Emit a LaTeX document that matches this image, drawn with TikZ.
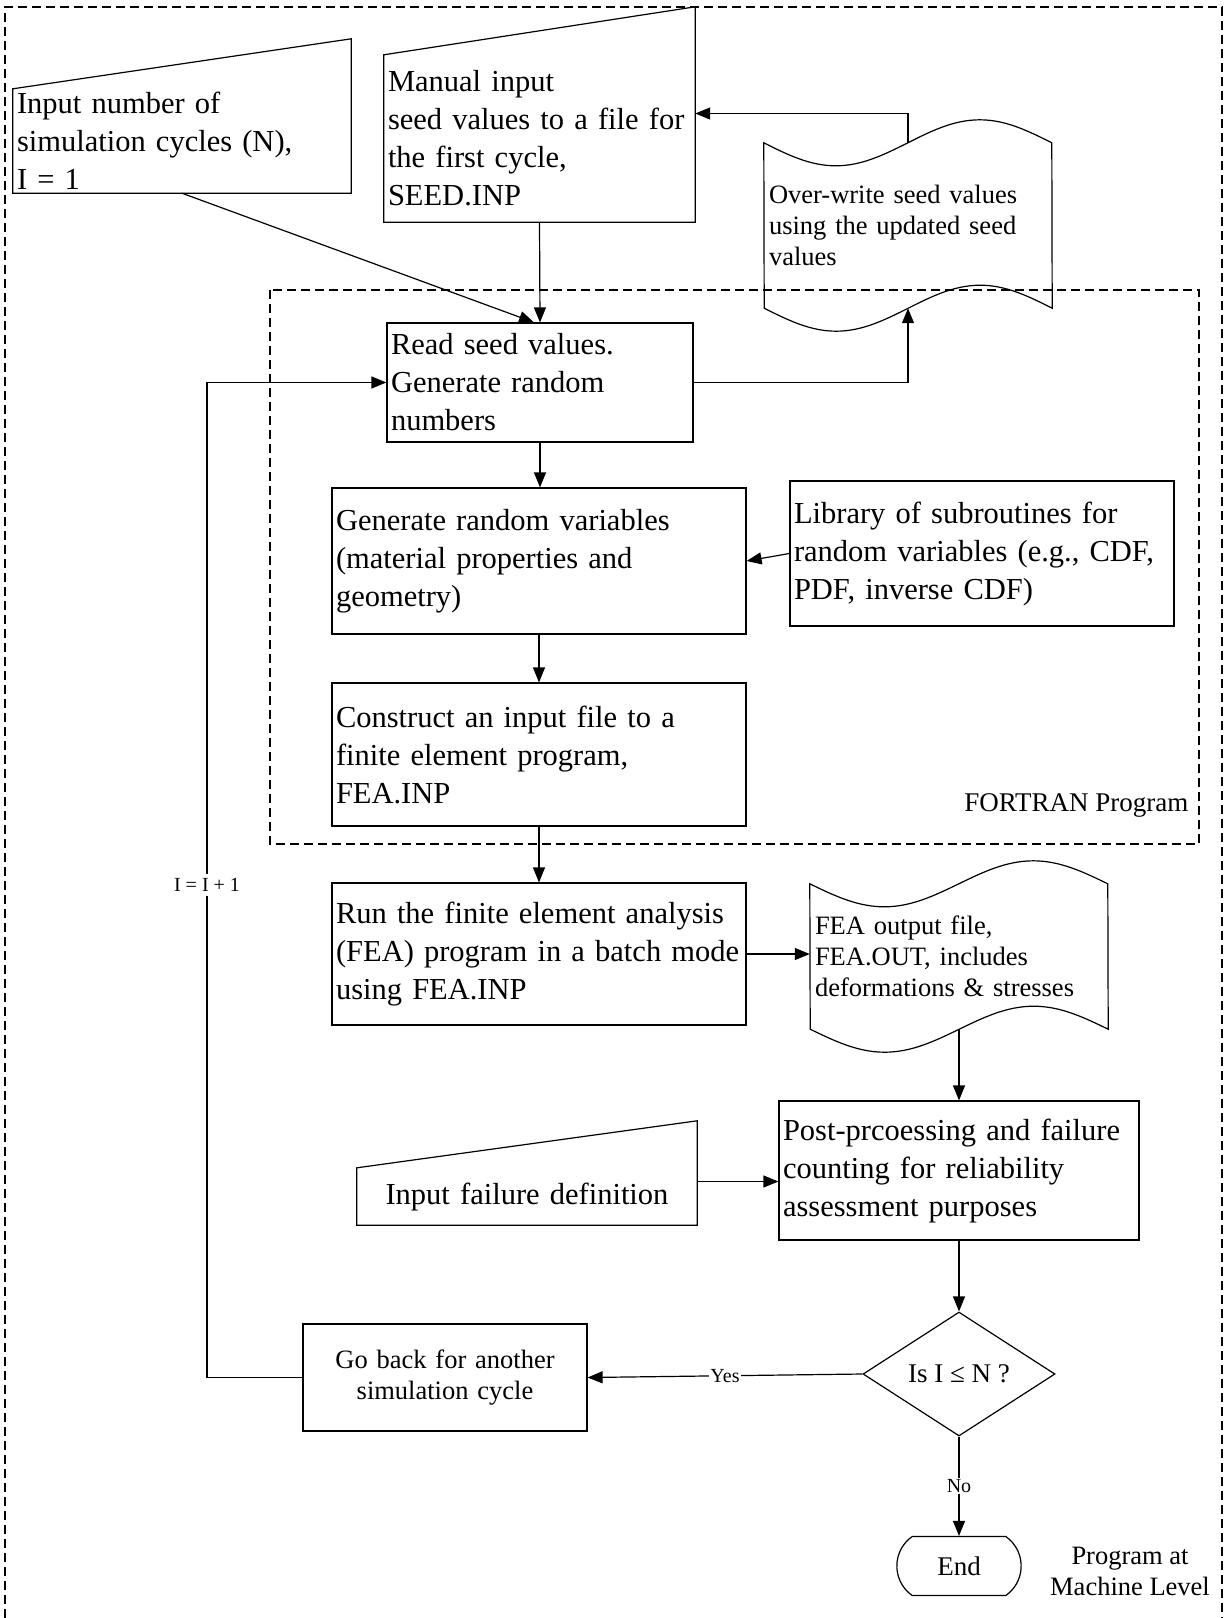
\documentclass[tikz,border=0pt]{standalone}
\usepackage{fontspec}
\setmainfont{Liberation Serif}
\usetikzlibrary{arrows.meta,calc,shapes.geometric,shapes.misc}
\newcommand\fbig{\fontsize{30.5}{38}\selectfont\spaceskip=5.5pt plus 2pt minus 1pt\relax}
\newcommand\fmid{\fontsize{26.5}{31}\selectfont}
\newcommand\fdia{\fontsize{27}{31}\selectfont}
\newcommand\fsml{\fontsize{20}{24}\selectfont}
\begin{document}
\begin{tikzpicture}[x=1pt,y=-1pt,
  lw/.style={line width=1.2pt},
  box/.style={draw, lw, inner xsep=4pt, inner ysep=0pt, align=left, font=\fbig},
  plain/.style={inner xsep=4pt, inner ysep=0pt, align=left},
  arr/.style={lw, -{Triangle[length=15pt,width=12pt]}},
  dsh/.style={lw, dash pattern=on 9pt off 5pt},
  lbl/.style={fill=white, inner sep=1.5pt, font=\fsml}]

\useasboundingbox (0,0) rectangle (1225,1618);

% frames
\draw[dsh] (5,1618) -- (5,7) -- (1222,7) -- (1222,1618);
\draw[dsh] (270,290) rectangle (1199,844);

% manual inputs (trapezoids)
\node[plain, font=\fbig, text width=330pt, minimum height=104pt] (inN) at (182,141)
  {Input number of\\simulation cycles (N),\\I = 1};
\draw[lw] (inN.south west) -- (inN.north west) -- ($(inN.north east)+(0,-50)$) -- (inN.south east) -- cycle;

\node[plain, font=\fbig, text width=303pt, minimum height=167pt] (man) at (539.5,138.5)
  {Manual input\\seed values to a file for\\the first cycle,\\SEED.INP};
\draw[lw] (man.south west) -- (man.north west) -- ($(man.north east)+(0,-48)$) -- (man.south east) -- cycle;

% process boxes
\node[box, text width=298pt, minimum height=119pt] (read) at (540,382.5)
  {Read seed values.\\Generate random\\numbers};
\node[box, text width=406pt, minimum height=146pt] (gen) at (539,561)
  {Generate random variables\\(material properties and\\geometry)};
\node[box, text width=376pt, minimum height=145pt] (lib) at (982,553.5)
  {Library of subroutines for\\random variables (e.g., CDF,\\PDF, inverse CDF)};
\node[box, text width=406pt, minimum height=143pt] (cons) at (539,754.5)
  {Construct an input file to a\\finite element program,\\FEA.INP};
\node[box, text width=406pt, minimum height=142pt] (run) at (539,954)
  {Run the finite element analysis\\(FEA) program in a batch mode\\using FEA.INP};
\node[box, text width=352pt, minimum height=139pt] (post) at (959,1170.5)
  {Post-prcoessing and failure\\counting for reliability\\assessment purposes};

% punched tapes
\node[plain, inner xsep=5pt, font=\fmid, text width=278pt, minimum height=165pt] (ow) at (908,225.5)
  {Over-write seed values\\using the updated seed\\values};
\draw[lw] (ow.north west) sin ++(72,23) cos ++(72,-23) sin ++(72,-23) cos ++(72,23)
  -- (ow.south east) sin ++(-72,-23) cos ++(-72,23) sin ++(-72,23) cos ++(-72,-23) -- cycle;

\node[plain, inner xsep=5pt, font=\fmid, text width=288pt, minimum height=145pt] (fea) at (959,956.5)
  {FEA output file,\\FEA.OUT, includes\\deformations \& stresses};
\draw[lw] (fea.north west) sin ++(74.5,23) cos ++(74.5,-23) sin ++(74.5,-23) cos ++(74.5,23)
  -- (fea.south east) sin ++(-74.5,-23) cos ++(-74.5,23) sin ++(-74.5,23) cos ++(-74.5,-23) -- cycle;

% failure input
\node[plain, align=center, font=\fbig, text width=332pt, minimum height=57pt] (fail) at (527,1196.5)
  {Input failure definition};
\draw[lw] (fail.south west) -- (fail.north west) -- ($(fail.north east)+(0,-47)$) -- (fail.south east) -- cycle;

% decision, loop, end
\node[diamond, draw, lw, aspect=1.55, inner sep=0pt, minimum width=192pt, minimum height=124pt, font=\fdia] (dia) at (959,1374)
  {Is I ≤ N ?};
\node[box, align=center, font=\fmid, text width=276pt, minimum height=107pt] (goback) at (445,1377.5)
  {Go back for another\\simulation cycle};
\node[rounded rectangle, draw, lw, rounded rectangle arc length=110, minimum width=131pt, minimum height=59pt, font=\fdia] (end) at (959,1566)
  {End};

% labels
\node[align=center, font=\fmid] (prog) at (1130,1571) {Program at\\Machine Level};
\node[anchor=east, font=\fdia] (fort) at (1192,805) {FORTRAN Program};

% connectors
\draw[arr] (man.south) -- (read.north);
\draw[arr] (inN.south) -- ($(read.north)+(-6,0)$);
\draw[arr] (read.east) -| (ow.south);
\draw[arr] (ow.north) |- ($(man.east)+(0,-25)$);
\draw[arr] (read.south) -- (read.south |- gen.north);
\draw[arr] (lib.west) -- (gen.east);
\draw[arr] (gen.south) -- (cons.north);
\draw[arr] (cons.south) -- (run.north);
\draw[arr] (run.east) -- (run.east -| fea.west);
\draw[arr] (fea.south) -- (post.north);
\draw[arr] ($(fail.east)+(0,-15)$) -- ($(fail.east -| post.west)+(0,-15)$);
\draw[arr] (post.south) -- (dia.north);
\draw[arr] (dia.west) -- node[lbl]{Yes} (goback.east);
\draw[arr] (dia.south) -- node[lbl]{No} (end.north);
\coordinate (lp) at (207,1377.5);
\draw[arr] (goback.west) -- (lp) |- node[lbl, pos=0.2475, inner ysep=4pt]{I = I + 1} (read.west);
\end{tikzpicture}
\end{document}
